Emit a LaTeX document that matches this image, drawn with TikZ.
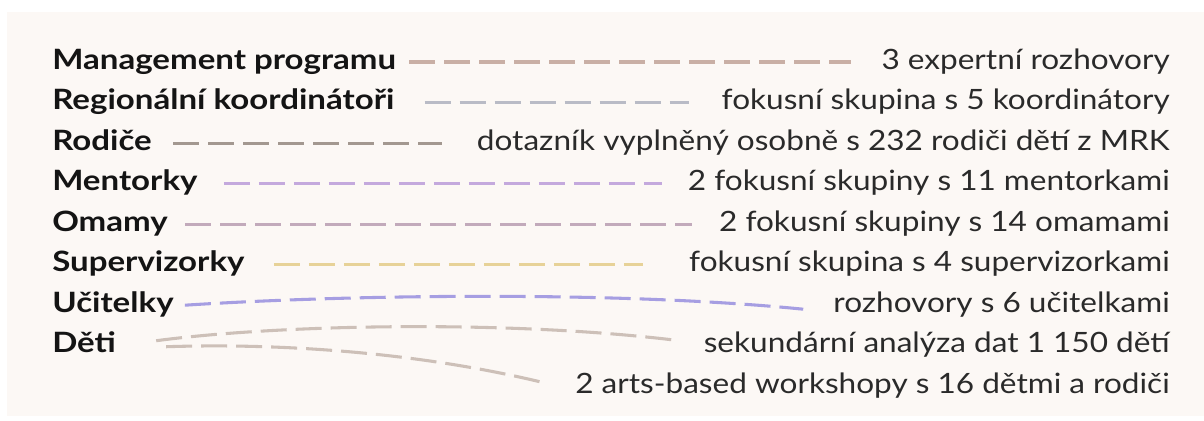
\documentclass[tikz,border=0pt]{standalone}
\usepackage{fontspec}
\usepackage{xcolor}
\setmainfont{Lato}
\newfontfamily\whofont{Lato}[FakeStretch=1.18]
\newfontfamily\howfont{Lato}[FakeStretch=1.127]
\usetikzlibrary{positioning}
\definecolor{panel}{HTML}{FCF8F5}
\definecolor{ink}{HTML}{141414}
\definecolor{inklight}{HTML}{2A2A2A}
\definecolor{cmgmt}{HTML}{C9AFA5}
\definecolor{creg}{HTML}{B9BBC6}
\definecolor{crod}{HTML}{A39890}
\definecolor{cment}{HTML}{C4A9DD}
\definecolor{coma}{HTML}{C2AABB}
\definecolor{csup}{HTML}{E7D298}
\definecolor{cuc}{HTML}{A69EE2}
\definecolor{cdeti}{HTML}{CDC0B8}
\tikzset{%
	who/.style    = {font=\whofont\bfseries\fontsize{21}{21}\selectfont, text=ink, inner sep=0pt, text height=15pt, text depth=4.5pt}, % Group
	how/.style    = {font=\howfont\fontsize{21}{21}\selectfont, text=inklight, inner sep=0pt, text height=15pt, text depth=4.5pt}, % Method
	link/.style   = {line width=2.3pt, dash pattern=on 19.5pt off 6.75pt}, % Connector
}

\begin{document}
\begin{tikzpicture}[x=0.75pt, y=-0.75pt]
	\useasboundingbox (0,0) rectangle (1204,421);
	\fill[panel] (7,12) rectangle (1204,416);
	% groups
	\node[who, anchor=west] (lm) at (52,62) {Management programu};
	\node[who, below=10.5pt of lm.south west, anchor=north west] (lr) {Regionální koordinátoři};
	\node[who, below=10.5pt of lr.south west, anchor=north west] (lp) {Rodiče};
	\node[who, below=10.5pt of lp.south west, anchor=north west] (le) {Mentorky};
	\node[who, below=10.5pt of le.south west, anchor=north west] (lo) {Omamy};
	\node[who, below=10.5pt of lo.south west, anchor=north west] (ls) {Supervizorky};
	\node[who, below=10.5pt of ls.south west, anchor=north west] (lu) {Učitelky};
	\node[who, below=10.5pt of lu.south west, anchor=north west] (ld) {Děti};
	% methods
	\node[how, anchor=east] (rm) at (1170,62) {3 expertní rozhovory};
	\node[how, below=10.5pt of rm.south east, anchor=north east] (rr) {fokusní skupina s 5 koordinátory};
	\node[how, below=10.5pt of rr.south east, anchor=north east] (rp) {dotazník vyplněný osobně s 232 rodiči dětí z MRK};
	\node[how, below=10.5pt of rp.south east, anchor=north east] (re) {2 fokusní skupiny s 11 mentorkami};
	\node[how, below=10.5pt of re.south east, anchor=north east] (ro) {2 fokusní skupiny s 14 omamami};
	\node[how, below=10.5pt of ro.south east, anchor=north east] (rs) {fokusní skupina s 4 supervizorkami};
	\node[how, below=10.5pt of rs.south east, anchor=north east] (ru) {rozhovory s 6 učitelkami};
	\node[how, below=10.5pt of ru.south east, anchor=north east] (rd) {sekundární analýza dat 1 150 dětí};
	\node[how, below=10.5pt of rd.south east, anchor=north east] (rw) {2 arts-based workshopy s 16 dětmi a rodiči};
	% connectors
	\draw[link, cmgmt] ([xshift=9.75pt]lm.east) -- ([xshift=-22.5pt]rm.west);
	\draw[link, creg] ([xshift=22.5pt]lr.east) -- ([xshift=-24pt]rr.west);
	\draw[link, crod] ([xshift=15.75pt]lp.east) -- ([xshift=-26.25pt]rp.west);
	\draw[link, cment] ([xshift=19.5pt]le.east) -- ([xshift=-19.5pt]re.west);
	\draw[link, coma] ([xshift=12.75pt]lo.east) -- ([xshift=-20.25pt]ro.west);
	\draw[link, csup] ([xshift=21.75pt]ls.east) -- ([xshift=-34.5pt]rs.west);
	\draw[link, cuc] ([xshift=8.25pt]lu.east) .. controls +(171,-11) and +(-180,-18) .. ([xshift=-22.5pt,yshift=-3pt]ru.west);
	\draw[link, cdeti] ([xshift=30pt,yshift=3.75pt]ld.east) .. controls +(120,-16) and +(-170,-20) .. ([xshift=-24pt,yshift=4.5pt]rd.west);
	\draw[link, cdeti] ([xshift=37.5pt,yshift=-0.75pt]ld.east) .. controls +(118,-4) and +(-120,-29) .. ([xshift=-24.75pt,yshift=3pt]rw.west);
\end{tikzpicture}
\end{document}
